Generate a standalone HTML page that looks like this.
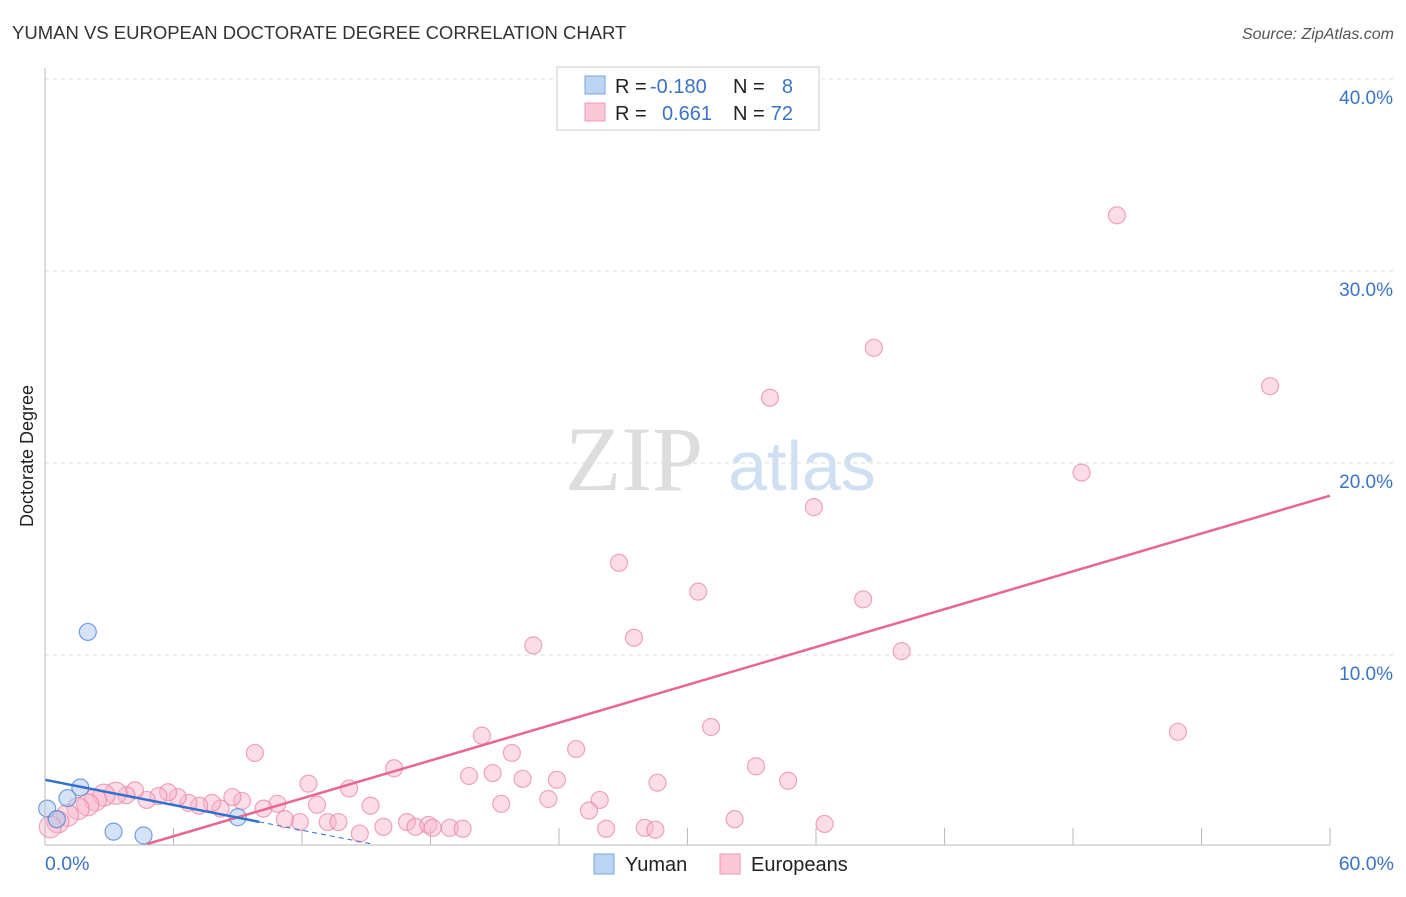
<!DOCTYPE html>
<html><head><meta charset="utf-8"><style>
body{margin:0;background:#fff;font-family:"Liberation Sans",sans-serif;}
</style></head><body>
<svg width="1406" height="892" xmlns="http://www.w3.org/2000/svg" id="svg">
<text x="12" y="39" font-size="18.5" fill="#333">YUMAN VS EUROPEAN DOCTORATE DEGREE CORRELATION CHART</text>
<text x="1394" y="39" font-size="16" fill="#555" font-style="italic" text-anchor="end">Source: ZipAtlas.com</text>
<text x="634" y="490" font-size="92" fill="#ddd" font-family="Liberation Serif,serif" text-anchor="middle">ZIP</text>
<text x="802" y="490" font-size="70" fill="#cfe0f3" text-anchor="middle">atlas</text>
<text transform="translate(33,456) rotate(-90)" font-size="18" fill="#222" text-anchor="middle">Doctorate Degree</text>
<g id="grid"></g><g id="pts"></g><g id="lines"></g>
<line x1="45" y1="68" x2="45" y2="845" stroke="#bbb"/>
<line x1="45" y1="845" x2="1330" y2="845" stroke="#bbb"/>
<text x="45" y="870" font-size="19.5" fill="#3b73c7">0.0%</text>
<text x="1394" y="870" font-size="19.5" fill="#3b73c7" text-anchor="end">60.0%</text>
<g>
<rect x="557" y="67" width="262" height="63" fill="#fff" stroke="#ccc"/>
<rect x="585" y="76" width="20" height="18" fill="#bcd5f3" stroke="#7aa6de"/>
<rect x="585" y="103" width="20" height="18" fill="#fbc8d8" stroke="#ee9ab5"/>
<text x="615" y="93" font-size="20" fill="#222">R =</text>
<text x="650" y="93" font-size="20" fill="#3b73c7">-0.180</text>
<text x="733" y="93" font-size="20" fill="#222">N =</text>
<text x="793" y="93" font-size="20" fill="#3b73c7" text-anchor="end">8</text>
<text x="615" y="120" font-size="20" fill="#222">R =</text>
<text x="662" y="120" font-size="20" fill="#3b73c7">0.661</text>
<text x="733" y="120" font-size="20" fill="#222">N =</text>
<text x="793" y="120" font-size="20" fill="#3b73c7" text-anchor="end">72</text>
</g>
<g>
<rect x="594" y="854" width="20" height="20" fill="#bcd5f3" stroke="#7aa6de"/>
<text x="625" y="871" font-size="20" fill="#222">Yuman</text>
<rect x="720" y="854" width="20" height="20" fill="#fbc8d8" stroke="#ee9ab5"/>
<text x="751" y="871" font-size="20" fill="#222">Europeans</text>
</g>
</svg>
<script>
const eurX=[50.05,38.7,33.85,57.2,48.4,35.9,26.8,30.5,38.2,27.5,22.8,40.0,31.1,52.9,9.8,20.4,21.8,24.8,16.3,19.8,20.9,22.3,23.9,28.6,33.2,34.7,12.3,14.2,21.3,23.5,25.9,25.4,12.7,15.2,32.2,36.4,26.2,28.0,28.5,11.9,13.2,13.7,14.7,15.8,16.9,17.3,17.9,18.1,18.9,19.5,11.2,10.85,10.2,9.2,8.75,8.2,7.8,7.2,6.7,6.2,5.75,5.3,4.75,4.2,3.8,3.3,2.75,2.35,2.0,1.55,1.05,0.6,0.25];
const eurY=[32.9,26.0,23.4,24.0,19.5,17.7,14.8,13.3,12.9,10.9,10.5,10.2,6.25,6.0,4.9,5.8,4.9,5.1,4.1,3.7,3.85,3.55,3.5,3.35,4.2,3.45,3.3,3.05,2.25,2.5,2.45,1.9,2.2,2.15,1.45,1.2,0.95,1.0,0.9,1.3,1.3,1.3,0.7,1.05,1.3,1.05,1.15,1.0,1.0,0.95,1.45,2.25,2.0,2.4,2.6,2.0,2.3,2.15,2.3,2.6,2.85,2.65,2.45,2.95,2.7,2.8,2.7,2.45,2.2,2.0,1.65,1.3,1.05];
const yumX=[2.0,1.65,1.05,0.1,0.55,3.2,4.6,9.0];
const yumY=[11.2,3.1,2.55,2.0,1.45,0.8,0.6,1.55];
const yTicks=[10,20,30,40];
const xTickMarks=[6,12,18,24,30,36,42,48,54,60];
const eurTrend=[0.3285,-1.41];
const yumTrend=[-0.219,3.5];
const sx=v=>45+v/60*1285, sy=v=>847-v*19.2;
const NS="http://www.w3.org/2000/svg";
function mk(t,a,p){const e=document.createElementNS(NS,t);for(const k in a)e.setAttribute(k,a[k]);p.appendChild(e);return e;}
const grid=document.getElementById('grid'),pts=document.getElementById('pts'),lines=document.getElementById('lines');
yTicks.forEach(t=>{
 const l=mk('line',{x1:45,x2:1395,y1:sy(t),y2:sy(t),stroke:'#ddd','stroke-dasharray':'4,4'},grid);
 
 
 const tx=mk('text',{x:1393,y:sy(t)+25,'font-size':19,fill:'#3b73c7','text-anchor':'end'},grid);
 tx.textContent=t.toFixed(1)+'%';
 
 
});
xTickMarks.forEach(t=>{
 const l=mk('line',{x1:sx(t),x2:sx(t),y1:828,y2:845,stroke:'#bbb'},grid);
 
 
});
eurX.forEach((x,i)=>{
 const c=mk('circle',{cx:sx(x),cy:sy(eurY[i]),r:i>64?11:8.5,fill:'rgba(248,180,202,0.45)',stroke:'rgba(232,130,165,0.7)','stroke-width':1.2},pts);
 
 
});
yumX.forEach((x,i)=>{
 const c=mk('circle',{cx:sx(x),cy:sy(yumY[i]),r:8.5,fill:'rgba(170,200,240,0.5)',stroke:'rgba(80,130,210,0.75)','stroke-width':1.2},pts);
 
 
});
const x0=(0.15-eurTrend[1])/eurTrend[0];
const el=mk('line',{x1:sx(x0),y1:sy(0.15),x2:sx(60),y2:sy(eurTrend[0]*60+eurTrend[1]),stroke:'#e8668f','stroke-width':2.5},lines);


const yl=mk('line',{x1:sx(0),y1:sy(yumTrend[1]),x2:sx(10),y2:sy(yumTrend[0]*10+yumTrend[1]),stroke:'#2f6fd0','stroke-width':2.5},lines);


const yd=mk('line',{x1:sx(10),y1:sy(yumTrend[0]*10+yumTrend[1]),x2:sx(15.2),y2:sy(yumTrend[0]*15.2+yumTrend[1]),stroke:'#2f6fd0','stroke-width':1,'stroke-dasharray':'5,4'},lines);


</script>
</body></html>
